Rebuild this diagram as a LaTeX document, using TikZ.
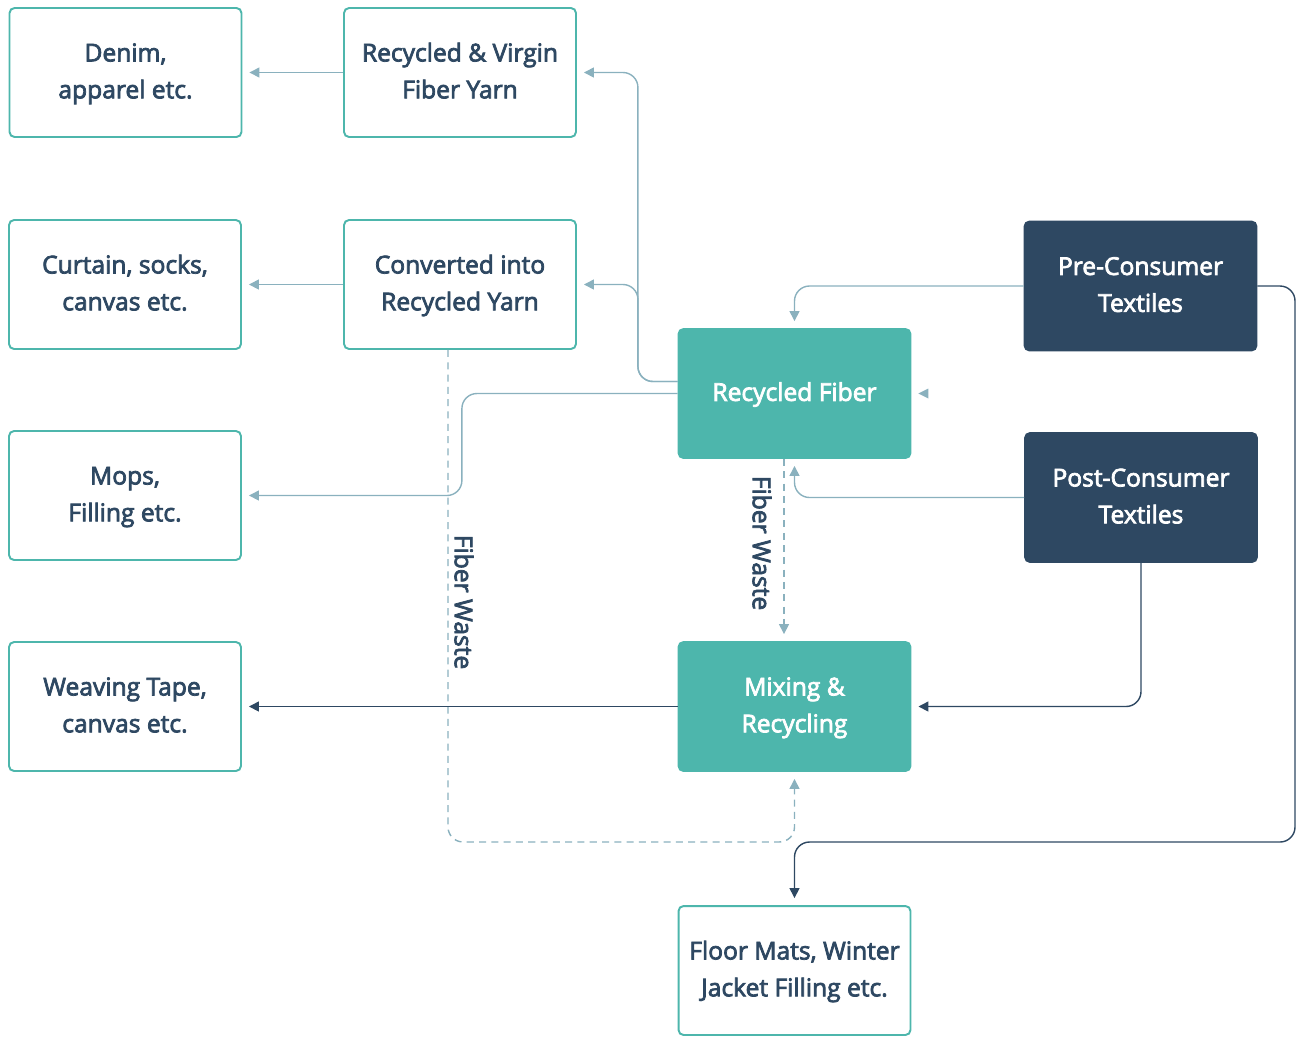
\documentclass[tikz,border=0pt]{standalone}
\usepackage{fontspec}
\setmainfont{Open Sans}[FakeBold=3]
\usetikzlibrary{arrows.meta}
\definecolor{teal}{HTML}{4DB6AC}
\definecolor{navy}{HTML}{2E4862}
\definecolor{lcol}{HTML}{8AB1BE}
\newcommand\twol[2]{\strut #1\\\strut #2}
\tikzset{
  box/.style={draw=teal, line width=1.1pt, rounded corners=0.1cm, fill=white,
    minimum width=4.64cm, minimum height=2.58cm, align=center, text=navy,
    font=\fontsize{14}{21}\selectfont, inner sep=0pt},
  tealbox/.style={box, fill=teal, text=white},
  navybox/.style={box, draw=navy, fill=navy, text=white},
  lc/.style={draw=lcol, line width=0.8pt, rounded corners=0.3cm,
    -{Triangle[length=0.2cm,width=0.2cm]}, shorten >=0.14cm},
  nc/.style={lc, draw=navy},
  dc/.style={lc, dash pattern=on 4pt off 3pt},
  lbl/.style={text=navy, font=\fontsize{14}{17}\selectfont, rotate=-90, inner sep=0pt}
}
\begin{document}
\begin{tikzpicture}[x=0.02cm, y=-0.02cm]
\useasboundingbox (0,0) rectangle (1300,1039);
\node[box] (den) at (125.5,72.5) {\twol{Denim,}{apparel etc.}};
\node[box] (rv) at (460,72.5) {\twol{Recycled \& Virgin}{Fiber Yarn}};
\node[box] (cur) at (125,284.5) {\twol{Curtain, socks,}{canvas etc.}};
\node[box] (conv) at (460,284.5) {\twol{Converted into}{Recycled Yarn}};
\node[box] (mops) at (125,495.5) {\twol{Mops,}{Filling etc.}};
\node[box] (weave) at (125,706.5) {\twol{Weaving Tape,}{canvas etc.}};
\node[tealbox] (rf) at (794.5,393.5) {\strut Recycled Fiber};
\node[tealbox] (mix) at (794.5,706.5) {\twol{Mixing \&}{Recycling}};
\node[navybox] (pre) at (1140.5,286) {\twol{Pre-Consumer}{Textiles}};
\node[navybox] (post) at (1141,497.5) {\twol{Post-Consumer}{Textiles}};
\node[box] (floor) at (794.5,970.5) {\twol{Floor Mats, Winter}{Jacket Filling etc.}};
\coordinate (c1) at (1295,842);

% left arrows
\draw[lc] (rv.west) -- (den.east);
\draw[lc] (conv.west) -- (cur.east);
% recycled fiber to yarns
\draw[lc] ([yshift=0.24cm]rf.west) -| ([xshift=1.22cm]rv.east) -- (rv.east);
\draw[lc] ([yshift=0.24cm]rf.west) -| ([xshift=1.22cm]conv.east) -- (conv.east);
% recycled fiber to mops
\draw[lc] (rf.west) -| ([xshift=4.4cm]mops.east) -- (mops.east);
% consumers to recycled fiber
\draw[lc] (pre.west) -| (rf.north);
\draw[lc] (post.west) -| (rf.south);
% stray arrowhead
\fill[lcol] ([xshift=0.14cm]rf.east) -- ++(0.2cm,0.1cm) -- ++(0,-0.2cm) -- cycle;
% fiber waste
\draw[dc] ([xshift=-0.21cm]rf.south) -- ([xshift=-0.21cm]mix.north);
\node[lbl] (fw1) at (762,543) {Fiber Waste};
\draw[dc] ([xshift=-0.24cm]conv.south) |- ([yshift=-1.4cm]mix.south) -- (mix.south);
\node[lbl] (fw2) at (464,602) {Fiber Waste};
% navy
\draw[nc] (post.south) |- (mix.east);
\draw[nc] (mix.west) -- (weave.east);
\draw[nc] (pre.east) -| (c1) -| (floor.north);
\end{tikzpicture}
\end{document}
